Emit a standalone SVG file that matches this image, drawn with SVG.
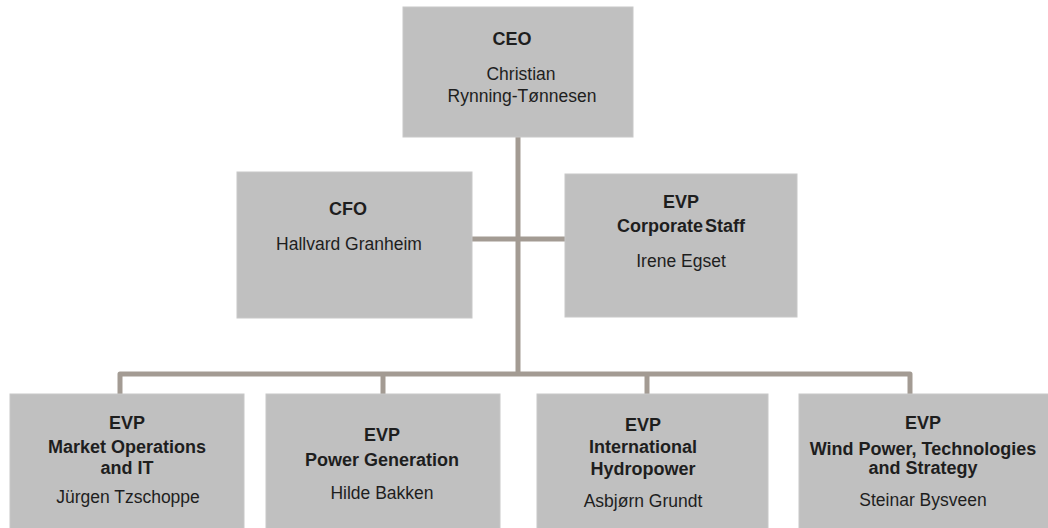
<svg xmlns="http://www.w3.org/2000/svg" width="1048" height="528" viewBox="0 0 1048 528">
<style>
.box{fill:#c0c0c0;stroke:#c8c8c8;stroke-width:1}
.conn{fill:none;stroke:#a39b93;stroke-width:5;stroke-linejoin:round}
text{font-family:"Liberation Sans",Arial,sans-serif;fill:#1e1e1e;text-anchor:middle}
.t{font-weight:bold;font-size:18px}
.n{font-size:17.5px}
</style>
<rect width="1048" height="528" fill="#ffffff"/>
<g id="connectors">
<path class="conn" d="M518 137 V374"/>
<path class="conn" d="M472 239 H565"/>
<path class="conn" d="M120 394 V374 H910 V394"/>
<path class="conn" d="M383 374 V394"/>
<path class="conn" d="M647 374 V394"/>
</g>
<g id="ceo">
<rect class="box" x="403" y="7" width="230" height="130"/>
<text class="t" x="512" y="45">CEO</text>
<text class="n" x="521" y="80">Christian</text>
<text class="n" x="522" y="101.5">Rynning-Tønnesen</text>
</g>
<g id="cfo">
<rect class="box" x="237" y="172" width="235" height="146"/>
<text class="t" x="348" y="215">CFO</text>
<text class="n" x="349" y="250">Hallvard Granheim</text>
</g>
<g id="corporate-staff">
<rect class="box" x="565" y="174" width="232" height="143"/>
<text class="t" x="681" y="208">EVP</text>
<text class="t" x="681" y="231.5" word-spacing="-3">Corporate Staff</text>
<text class="n" x="681" y="266.5">Irene Egset</text>
</g>
<g id="market-operations">
<rect class="box" x="10" y="394" width="234" height="140"/>
<text class="t" x="127" y="428.5">EVP</text>
<text class="t" x="127" y="452.5">Market Operations</text>
<text class="t" x="127" y="474">and IT</text>
<text class="n" x="128" y="503">Jürgen Tzschoppe</text>
</g>
<g id="power-generation">
<rect class="box" x="266" y="394" width="234" height="140"/>
<text class="t" x="382" y="441">EVP</text>
<text class="t" x="382" y="466">Power Generation</text>
<text class="n" x="382" y="498.5">Hilde Bakken</text>
</g>
<g id="international-hydropower">
<rect class="box" x="537" y="394" width="231" height="140"/>
<text class="t" x="643" y="430.5">EVP</text>
<text class="t" x="643" y="453">International</text>
<text class="t" x="643" y="474.5">Hydropower</text>
<text class="n" x="643" y="507">Asbjørn Grundt</text>
</g>
<g id="wind-power">
<rect class="box" x="799" y="394" width="250" height="140"/>
<text class="t" x="923" y="428.5">EVP</text>
<text class="t" x="923" y="455">Wind Power, Technologies</text>
<text class="t" x="923" y="474">and Strategy</text>
<text class="n" x="923" y="506">Steinar Bysveen</text>
</g>
</svg>
